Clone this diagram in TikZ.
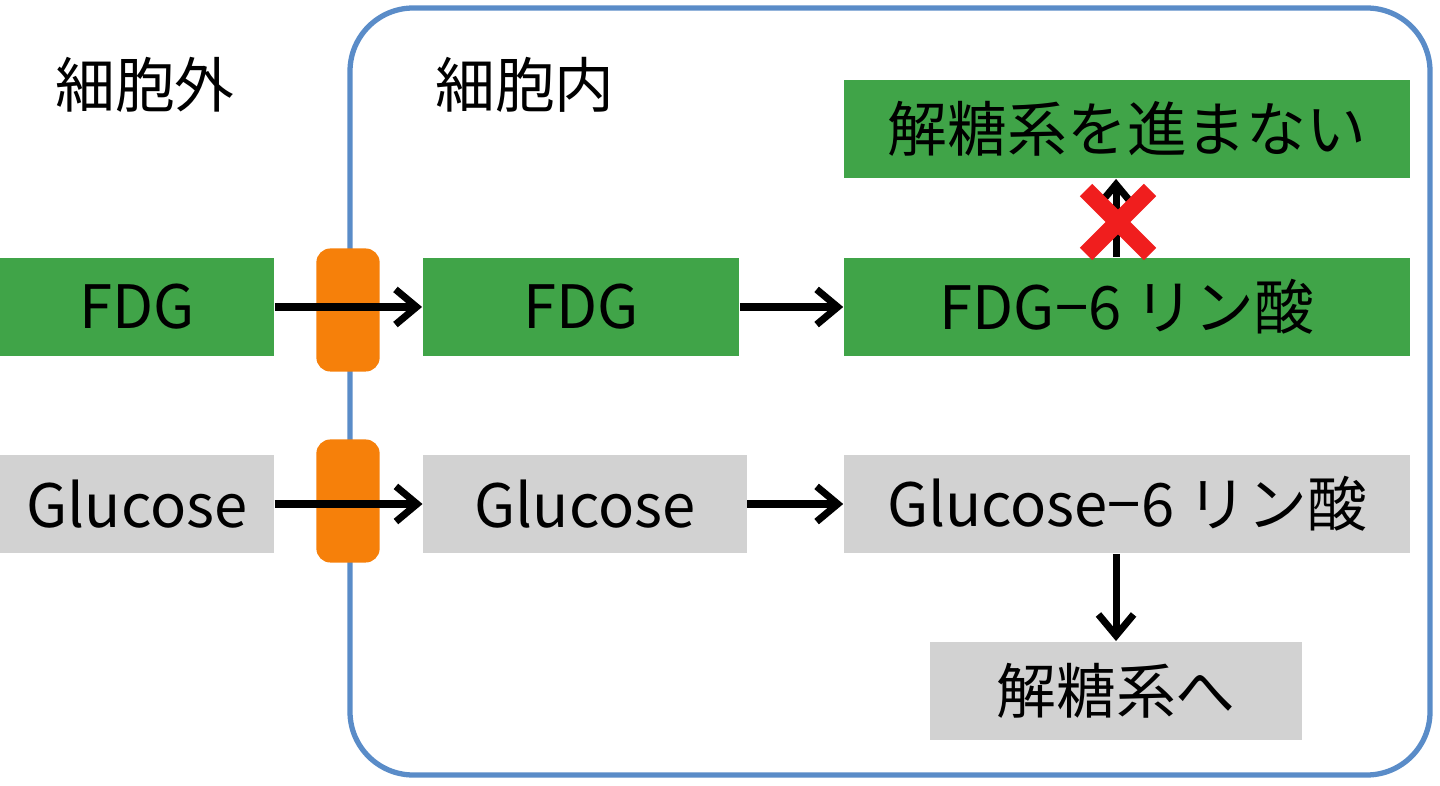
\documentclass[tikz,border=0pt]{standalone}
\usepackage{fontspec}
\setmainfont{Noto Sans CJK JP}
\usetikzlibrary{arrows.meta}
\definecolor{gbox}{RGB}{64,164,72}
\definecolor{graybox}{RGB}{210,210,210}
\definecolor{orng}{RGB}{246,128,10}
\definecolor{cellblue}{RGB}{90,140,200}
\definecolor{xred}{RGB}{240,30,30}
\begin{document}
\begin{tikzpicture}[x=0.01cm,y=-0.01cm,
  box/.style={minimum height=28pt,inner sep=0pt,font=\fontsize{17}{20}\selectfont},
  gb/.style={box,fill=gbox},
  yb/.style={box,fill=graybox},
  tr/.style={fill=orng,rounded corners=4pt,minimum width=18pt,minimum height=35pt,inner sep=0pt},
  arr/.style={line width=2pt,-{Straight Barb[length=6pt,width=10pt,line width=2pt]}},
  lab/.style={font=\fontsize{17}{20}\selectfont}]
\useasboundingbox (0,0) rectangle (1440,786);
\draw[cellblue,line width=1.5pt,rounded corners=18pt] (350,8) rectangle (1430,775);
\node[lab] (out) at (145,85) {細胞外};
\node[lab] (in) at (525,85) {細胞内};
\node[gb,minimum width=161pt] (stop) at (1127,129) {解糖系を進まない};
\node[gb,minimum width=78pt] (f1) at (137,307) {FDG};
\node[gb,minimum width=90pt] (f2) at (581,307) {FDG};
\node[gb,minimum width=161pt] (f3) at (1127,307) {FDG−6 リン酸};
\node[yb,minimum width=78pt] (g1) at (137,504) {Glucose};
\node[yb,minimum width=92pt] (g2) at (585,504) {Glucose};
\node[yb,minimum width=161pt] (g3) at (1127,504) {Glucose−6 リン酸};
\node[yb,minimum width=106pt] (gl) at (1116,691) {解糖系へ};
\node[tr] (t1) at (348,310) {};
\node[tr] (t2) at (348,501) {};
\draw[arr] (f1.east) -- (f2.west);
\draw[arr] (f2.east) -- (f3.west);
\draw[arr] (g1.east) -- (g2.west);
\draw[arr] (g2.east) -- (g3.west);
\draw[arr] (g3.south -| gl) -- (gl.north);
\draw[arr] (f3.north -| gl) -- (stop.south -| gl);
\coordinate (x) at (1118,222);
\draw[xred,line width=5pt] ([shift={(-32,-32)}]x) -- ([shift={(32,32)}]x) ([shift={(-32,32)}]x) -- ([shift={(32,-32)}]x);
\end{tikzpicture}
\end{document}
